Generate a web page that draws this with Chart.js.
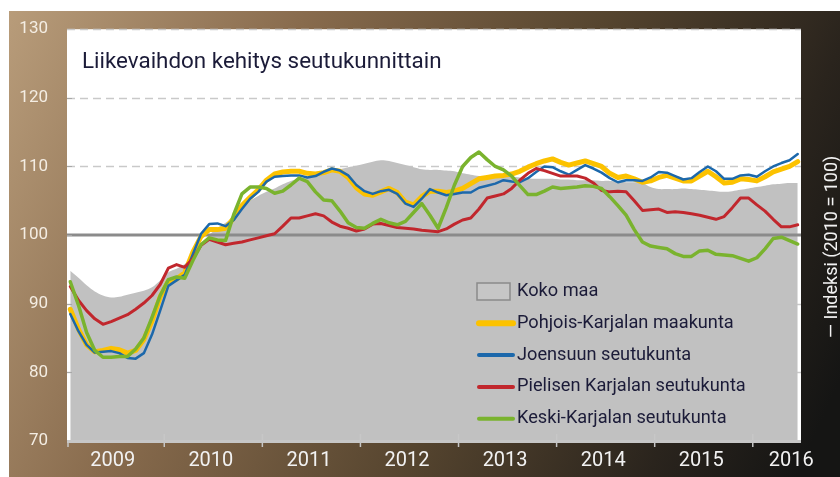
<!DOCTYPE html>
<html><head><meta charset="utf-8">
<script src="https://cdn.jsdelivr.net/npm/chart.js@4/dist/chart.umd.min.js"></script>
<style>html,body{margin:0;padding:0;background:#fff;}canvas{display:block}</style>
</head><body>
<canvas id="c" width="840" height="477"></canvas>
<script>
const chartTitle = 'Liikevaihdon kehitys seutukunnittain';
const axisTitle = '— Indeksi (2010 = 100)';
const years = ['2009','2010','2011','2012','2013','2014','2015','2016'];
const yTickValues = [70,80,90,100,110,120,130];
const seriesNames = ['Koko maa','Pohjois-Karjalan maakunta','Joensuun seutukunta','Pielisen Karjalan seutukunta','Keski-Karjalan seutukunta'];

// monthly index values, Jan 2009 - Jun 2016
const kokoMaa = [
 94.8,93.8,92.7,91.8,91.2,90.9,91.0,91.3,91.6,91.9,92.4,93.4,
 94.6,95.1,95.8,96.9,98.5,100.0,101.0,101.8,102.6,104.0,105.0,105.7,
 106.3,106.8,107.4,107.9,108.2,108.4,108.7,109.0,109.3,109.6,109.9,110.1,
 110.4,110.7,110.9,110.8,110.5,110.2,109.9,109.6,109.5,109.5,109.4,109.3,
 109.0,108.8,108.6,108.5,108.5,108.5,108.5,108.4,108.3,108.2,108.2,108.2,
 108.1,108.1,108.0,108.0,108.0,107.9,107.9,107.8,107.7,107.7,107.6,107.0,
 106.7,106.7,106.7,106.8,106.7,106.6,106.5,106.4,106.3,106.4,106.6,106.8,
 107.0,107.2,107.4,107.5,107.6,107.6];
const pohjoisKarjala = [
 89.2,86.3,84.0,83.0,83.2,83.5,83.3,82.8,83.2,84.8,87.5,91.0,
 93.3,93.6,94.5,97.5,99.8,100.8,100.8,101.0,102.5,104.3,105.5,106.6,
 108.0,108.9,109.2,109.3,109.3,109.0,108.9,109.1,109.5,109.3,108.4,106.9,
 106.0,105.8,106.3,106.8,106.2,104.8,104.4,105.6,106.4,106.4,106.2,106.4,
 106.8,107.5,108.2,108.4,108.6,108.7,108.9,109.3,109.9,110.4,110.8,111.1,
 110.6,110.2,110.5,110.8,110.4,110.0,109.0,108.4,108.6,108.2,107.7,107.9,
 108.4,108.7,108.3,107.9,107.9,108.6,109.3,108.5,107.6,107.7,108.2,108.1,
 107.9,108.5,109.2,109.6,110.0,110.7];
const joensuu = [
 88.5,86.0,84.0,82.9,83.0,83.1,82.8,82.1,82.0,82.8,85.5,89.0,
 92.6,93.4,94.2,97.2,100.2,101.6,101.7,101.3,102.2,103.8,105.3,106.3,
 107.8,108.5,108.6,108.7,108.7,108.4,108.6,109.2,109.7,109.4,108.7,107.3,
 106.4,106.0,106.4,106.6,106.0,104.6,104.1,105.3,106.7,106.2,105.8,106.0,
 106.2,106.2,106.9,107.2,107.5,108.0,107.8,107.7,108.3,109.2,110.0,109.9,
 109.3,108.8,109.5,110.2,109.7,109.1,108.3,107.7,108.0,108.0,107.9,108.4,
 109.2,109.1,108.6,108.1,108.3,109.2,110.0,109.3,108.2,108.2,108.7,108.8,
 108.5,109.3,110.0,110.5,110.9,111.8];
const pielinenKarjala = [
 92.5,90.5,89.0,87.8,87.0,87.4,87.9,88.4,89.2,90.1,91.2,92.8,
 95.2,95.7,95.3,96.6,98.5,99.4,99.0,98.6,98.8,99.0,99.3,99.6,
 99.9,100.2,101.3,102.5,102.5,102.8,103.1,102.8,101.9,101.3,101.0,100.6,
 100.9,101.6,101.7,101.4,101.1,101.0,100.9,100.7,100.6,100.5,100.9,101.6,
 102.2,102.5,103.8,105.4,105.7,106.0,106.8,108.0,109.0,109.7,109.4,109.0,
 108.6,108.6,108.6,108.3,107.6,106.5,106.3,106.4,106.3,105.0,103.6,103.7,
 103.8,103.3,103.4,103.3,103.1,102.9,102.6,102.3,102.7,104.0,105.4,105.4,
 104.4,103.5,102.3,101.2,101.2,101.5];
const keskiKarjala = [
 93.2,89.8,85.8,83.2,82.2,82.2,82.3,82.3,83.4,85.0,88.0,91.2,
 93.5,93.9,93.7,96.3,98.6,99.6,99.3,99.2,103.0,106.0,107.0,107.0,
 106.8,106.1,106.4,107.3,108.3,107.8,106.3,105.1,105.0,103.5,101.8,101.1,
 101.0,101.7,102.3,101.8,101.5,102.0,103.3,104.6,102.9,101.0,104.0,107.3,
 110.0,111.3,112.1,111.0,110.0,109.5,108.6,107.2,105.9,105.9,106.4,107.0,
 106.8,106.9,107.0,107.2,107.1,106.8,105.6,104.3,102.9,100.8,99.0,98.4,
 98.2,98.0,97.3,96.9,96.9,97.7,97.8,97.2,97.1,97.0,96.6,96.2,
 96.7,98.0,99.5,99.7,99.2,98.7];

const toXY = arr => arr.map((v,i)=>({x:i,y:v}));
const FONT = 'Roboto';
Chart.defaults.font.family = FONT;

const datasets = [
 {label:seriesNames[0], data:toXY(kokoMaa), fill:'start', backgroundColor:'#c1c1c1', borderWidth:0, pointRadius:0, tension:0.3, order:5},
 {label:seriesNames[1], data:toXY(pohjoisKarjala), borderColor:'#fcc200', borderWidth:5, pointRadius:0, fill:false, order:4, legendWidth:6},
 {label:seriesNames[2], data:toXY(joensuu), borderColor:'#1c68ab', borderWidth:2.5, pointRadius:0, fill:false, order:3, legendWidth:4},
 {label:seriesNames[3], data:toXY(pielinenKarjala), borderColor:'#c1272d', borderWidth:3, pointRadius:0, fill:false, order:2, legendWidth:4},
 {label:seriesNames[4], data:toXY(keskiKarjala), borderColor:'#7ab32e', borderWidth:3.5, pointRadius:0, fill:false, order:1, legendWidth:4}
];

const decor = {
 id:'decor',
 beforeDraw(chart){
  const {ctx, chartArea:a, width:W, height:H} = chart;
  ctx.save();
  const g = ctx.createLinearGradient(9,11,W,380);
  g.addColorStop(0,'#b89c7a');
  g.addColorStop(0.3,'#886b4d');
  g.addColorStop(0.6,'#56452f');
  g.addColorStop(0.85,'#2a241d');
  g.addColorStop(1,'#151514');
  ctx.fillStyle = g;
  ctx.fillRect(9,11,W-9,H-11);
  ctx.fillStyle = '#ffffff';
  ctx.fillRect(a.left,a.top,a.right-a.left,a.bottom-a.top);
  ctx.restore();
 },
 beforeDatasetsDraw(chart){
  const {ctx, chartArea:a, scales:{y}} = chart;
  ctx.save();
  ctx.strokeStyle = '#c9c9c9';
  ctx.lineWidth = 1.5;
  ctx.setLineDash([8,5]);
  yTickValues.forEach(v=>{
   if (v===100 || v===70) return;
   const py = Math.round(y.getPixelForValue(v))+0.5;
   ctx.beginPath(); ctx.moveTo(a.left,py); ctx.lineTo(a.right,py); ctx.stroke();
  });
  ctx.restore();
 },
 afterDatasetDraw(chart, args){
  if (args.index !== 0) return;
  const {ctx, chartArea:a, scales:{y}} = chart;
  ctx.save();
  ctx.strokeStyle = '#8b8b8b';
  ctx.lineWidth = 3;
  const py = y.getPixelForValue(100);
  ctx.beginPath(); ctx.moveTo(a.left,py); ctx.lineTo(a.right,py); ctx.stroke();
  ctx.strokeStyle = '#a8a8a8'; ctx.lineWidth = 1;
  yTickValues.forEach(v=>{
   if (v===70||v===130) return;
   const p = Math.round(y.getPixelForValue(v))+0.5;
   ctx.beginPath(); ctx.moveTo(a.left,p); ctx.lineTo(a.left+5,p); ctx.stroke();
  });
  ctx.restore();
 },
 afterDraw(chart){
  const {ctx, chartArea:a, scales:{x}} = chart;
  ctx.save();
  ctx.fillStyle = '#c7c7c7';
  ctx.fillRect(a.left, a.bottom-1, a.right-a.left, 3);
  ctx.strokeStyle = '#c7c7c7'; ctx.lineWidth = 1.5;
  years.forEach((yr,k)=>{
   const px = Math.max(a.left+1, x.getPixelForValue(12*k-0.5));
   ctx.beginPath(); ctx.moveTo(px, k===0 ? a.bottom : a.bottom-7); ctx.lineTo(px, a.bottom+6); ctx.stroke();
  });
  // title
  ctx.fillStyle = '#1b1b38';
  ctx.font = '22.4px '+FONT;
  ctx.textBaseline = 'middle'; ctx.textAlign = 'left';
  ctx.fillText(chartTitle, 82, 62);
  // legend
  const lx = 477, ly0 = 291.5, step = 31.8;
  ctx.font = '18.2px '+FONT;
  chart.data.datasets.forEach((ds,i)=>{
   const yy = ly0 + i*step;
   if (i===0){
    ctx.fillStyle = '#c6c6c6'; ctx.fillRect(lx, yy-8.5, 33, 17);
    ctx.strokeStyle = '#8a8a8a'; ctx.lineWidth = 1.5; ctx.strokeRect(lx, yy-8.5, 33, 17);
   } else {
    ctx.strokeStyle = ds.borderColor; ctx.lineWidth = ds.legendWidth; ctx.lineCap = 'round';
    ctx.beginPath(); ctx.moveTo(lx+2, yy); ctx.lineTo(lx+36, yy); ctx.stroke();
   }
   ctx.fillStyle = '#1b1b38';
   ctx.fillText(ds.label, lx+40, yy);
  });
  // vertical axis title
  ctx.translate(832, 338);
  ctx.rotate(-Math.PI/2);
  ctx.font = '18px '+FONT;
  ctx.fillStyle = '#f2f2f2';
  ctx.textAlign = 'left'; ctx.textBaseline = 'middle';
  ctx.fillText(axisTitle, 0, 0);
  ctx.restore();
 }
};

new Chart(document.getElementById('c'), {
 type:'line',
 data:{datasets},
 options:{
  responsive:false, animation:false, devicePixelRatio:1,
  layout:{padding:{top:25,right:39,left:0,bottom:0}},
  plugins:{legend:{display:false}, tooltip:{enabled:false}, title:{display:false}},
  elements:{line:{borderCapStyle:'round', borderJoinStyle:'round'}},
  scales:{
   x:{type:'linear', min:-0.4, max:89.4,
      grid:{display:false, drawTicks:false}, border:{display:false},
      afterBuildTicks(s){ s.ticks = years.map((yr,k)=>({value: Math.min(12*k+5.2, 88.2)})); },
      afterFit(s){ s.height = 36; },
      ticks:{autoSkip:false, maxRotation:0, color:'#f2f2f2', font:{size:20, family:FONT}, padding:8,
             callback:(v,i)=>years[i]}},
   y:{type:'linear', min:70, max:130,
      grid:{display:false, drawTicks:false}, border:{display:false},
      afterBuildTicks(s){ s.ticks = yTickValues.map(v=>({value:v})); },
      afterFit(s){ s.width = 67; },
      ticks:{color:'#f4ede3', font:{size:17, family:FONT}, padding:19}}
  }
 },
 plugins:[decor]
});
</script>
</body></html>
